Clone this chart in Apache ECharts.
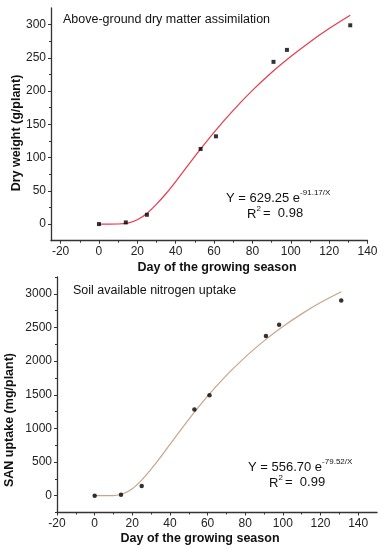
<!DOCTYPE html>
<html>
<head>
<meta charset="utf-8">
<script src="https://cdn.jsdelivr.net/npm/echarts@6/dist/echarts.min.js"></script>
<style>
html,body{margin:0;padding:0;background:#fff;}
#c{width:383px;height:550px;}
</style>
</head>
<body>
<div id="c"></div>
<script>
// Observed sampling days and measurements
const days = [0, 14, 25, 53, 61, 91, 98, 131];
const dryWeight = [0, 2.5, 14, 113, 132, 244, 262, 299];
const sanUptake = [0, 15, 144, 1279, 1493, 2373, 2542, 2900];

// Fitted curves
const curveDays = [0, 5, 10, 15, 20, 25, 30, 35, 40, 50, 60, 70, 80, 90, 100, 110, 120, 131];
const dryFit = [0, 0, 0.1, 1.4, 6.6, 16, 30, 46, 64, 102, 138, 171, 201, 228, 252, 274, 294, 314];
const sanFit = [0, 0, 2, 28, 104, 231, 393, 572, 763, 1135, 1480, 1788, 2060, 2301, 2513, 2702, 2870, 3030];

// Tick labels
const xMajor = [-20, 0, 20, 40, 60, 80, 100, 120, 140];
const xMinor = [-10, 10, 30, 50, 70, 90, 110, 130];
const dryMajor = [0, 50, 100, 150, 200, 250, 300];
const dryMinor = [25, 75, 125, 175, 225, 275];
const sanMajor = [0, 500, 1000, 1500, 2000, 2500, 3000];
const sanMinor = [-250, 250, 750, 1250, 1750, 2250, 2750, 3250];

const FONT = '"Liberation Sans", Arial, sans-serif';
const AX = '#333';

function pairs(xs, ys) { return xs.map((x, i) => [x, ys[i]]); }

function majorAxis(type, grid, min, max, major) {
  return {
    type: 'value', gridIndex: grid, min: min, max: max,
    position: type === 'x' ? 'bottom' : 'left',
    splitLine: { show: false },
    axisLine: { show: true, onZero: false, lineStyle: { color: AX, width: 1.3 } },
    axisTick: { show: true, inside: false, length: 3, customValues: major, lineStyle: { color: AX, width: 1 } },
    axisLabel: { show: true, customValues: major, color: '#222', fontSize: 12, fontFamily: FONT, margin: 5,
      formatter: function (v) { return String(v); } }
  };
}
function minorAxis(type, grid, min, max, minor) {
  return {
    type: 'value', gridIndex: grid, min: min, max: max,
    position: type === 'x' ? 'bottom' : 'left',
    splitLine: { show: false },
    axisLine: { show: false, onZero: false },
    axisTick: { show: true, inside: false, length: 2, customValues: minor, lineStyle: { color: AX, width: 1 } },
    axisLabel: { show: false }
  };
}

const chart = echarts.init(document.getElementById('c'), null, { renderer: 'canvas' });

function txt(x, y, text, opts) {
  return Object.assign({
    type: 'text', x: x, y: y,
    style: Object.assign({ text: text, font: '12.5px ' + FONT, fill: '#111', align: 'left', verticalAlign: 'middle' }, opts && opts.style || {})
  }, opts && opts.el || {});
}

function eqText(x, y, main, sup) {
  return {
    type: 'text', x: x, y: y,
    style: {
      text: '{n|' + main + '}{s|' + sup + '}',
      align: 'left', verticalAlign: 'middle',
      rich: {
        n: { fontSize: 13, fontFamily: FONT, fill: '#111', lineHeight: 16, verticalAlign: 'bottom' },
        s: { fontSize: 8, fontFamily: FONT, fill: '#111', lineHeight: 16, verticalAlign: 'top' }
      }
    }
  };
}

chart.setOption({
  animation: false,
  grid: [
    { left: 51, top: 8, width: 316.5, height: 232.7 },
    { left: 57, top: 277, width: 320, height: 235.5 }
  ],
  xAxis: [
    majorAxis('x', 0, -25, 140, xMajor),
    minorAxis('x', 0, -25, 140, xMinor),
    majorAxis('x', 1, -20, 150, xMajor),
    minorAxis('x', 1, -20, 150, xMinor)
  ],
  yAxis: [
    majorAxis('y', 0, -25, 325, dryMajor),
    minorAxis('y', 0, -25, 325, dryMinor),
    majorAxis('y', 1, -250, 3250, sanMajor),
    minorAxis('y', 1, -250, 3250, sanMinor)
  ],
  series: [
    {
      type: 'line', xAxisIndex: 0, yAxisIndex: 0, data: pairs(curveDays, dryFit),
      smooth: 0.3, showSymbol: false, lineStyle: { color: '#e8394d', width: 1.2 }, z: 2
    },
    {
      type: 'scatter', xAxisIndex: 0, yAxisIndex: 0, data: pairs(days, dryWeight),
      symbol: 'rect', symbolSize: 4, itemStyle: { color: '#000' }, z: 3
    },
    {
      type: 'line', xAxisIndex: 2, yAxisIndex: 2, data: pairs(curveDays, sanFit),
      smooth: 0.3, showSymbol: false, lineStyle: { color: '#c9a589', width: 1.2 }, z: 2
    },
    {
      type: 'scatter', xAxisIndex: 2, yAxisIndex: 2, data: pairs(days, sanUptake),
      symbol: 'circle', symbolSize: 4.5, itemStyle: { color: '#000' }, z: 3
    }
  ],
  graphic: [
    txt(63, 20, 'Above-ground dry matter assimilation'),
    eqText(226, 197, 'Y = 629.25 e', '-91.17/X'),
    eqText(247, 213, 'R', '2'),
    txt(263, 213, '=  0.98', { style: { font: '13px ' + FONT } }),
    txt(17, 133, 'Dry weight (g/plant)', { style: { font: 'bold 12.5px ' + FONT, align: 'center' }, el: { rotation: Math.PI / 2 } }),
    txt(217, 268, 'Day of the growing season', { style: { font: 'bold 12.5px ' + FONT, align: 'center' } }),

    txt(73, 291, 'Soil available nitrogen uptake'),
    eqText(248, 466, 'Y = 556.70 e', '-79.52/X'),
    eqText(269, 482, 'R', '2'),
    txt(285, 482, '=  0.99', { style: { font: '13px ' + FONT } }),
    txt(10, 420, 'SAN uptake (mg/plant)', { style: { font: 'bold 12.5px ' + FONT, align: 'center' }, el: { rotation: Math.PI / 2 } }),
    txt(200, 539, 'Day of the growing season', { style: { font: 'bold 12.5px ' + FONT, align: 'center' } })
  ]
});
</script>
</body>
</html>
